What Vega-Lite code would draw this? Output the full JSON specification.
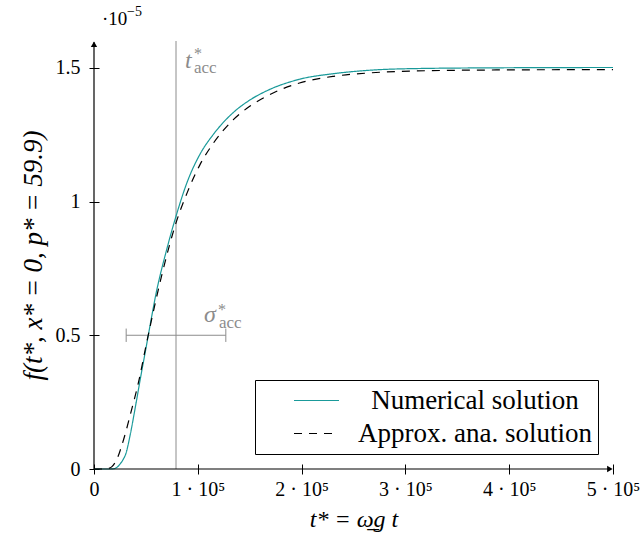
{
  "$schema": "https://vega.github.io/schema/vega-lite/v6.json",
  "width": 519,
  "height": 428,
  "autosize": {"type": "none"},
  "padding": {"left": 94, "top": 41, "right": 27, "bottom": 81},
  "background": "white",
  "config": {
    "view": {"stroke": null},
    "font": "Liberation Serif",
    "axis": {
      "domain": false,
      "grid": false,
      "tickColor": "black",
      "tickSize": 10,
      "offset": -5,
      "labelColor": "black",
      "labelFont": "Liberation Serif",
      "labelFontSize": 20,
      "titleFont": "Liberation Serif",
      "titleFontSize": 24,
      "titleFontWeight": "normal",
      "titleFontStyle": "italic",
      "titleColor": "black"
    },
    "legend": {
      "orient": "bottom-right",
      "offset": 15,
      "fillColor": "white",
      "strokeColor": "black",
      "cornerRadius": 0,
      "padding": 5.5,
      "rowPadding": 3,
      "clipHeight": 30,
      "symbolType": "stroke",
      "symbolSize": 2025,
      "symbolStrokeWidth": 1.2,
      "symbolOffset": 32.5,
      "labelFont": "Liberation Serif",
      "labelFontSize": 27,
      "labelColor": "black",
      "labelAlign": "center",
      "labelOffset": 135,
      "labelLimit": 400,
      "labelExpr": "datum.label + '\u00a0\u00a0'"
    }
  },
  "datasets": {
    "curves": [
      {"t": 0, "f": 0, "s": "Numerical solution"},
      {"t": 15000, "f": 0, "s": "Numerical solution"},
      {"t": 19000, "f": 0.001, "s": "Numerical solution"},
      {"t": 22000, "f": 0.006, "s": "Numerical solution"},
      {"t": 25000, "f": 0.018, "s": "Numerical solution"},
      {"t": 28000, "f": 0.035, "s": "Numerical solution"},
      {"t": 30500, "f": 0.055, "s": "Numerical solution"},
      {"t": 35000, "f": 0.13, "s": "Numerical solution"},
      {"t": 40000, "f": 0.235, "s": "Numerical solution"},
      {"t": 45000, "f": 0.345, "s": "Numerical solution"},
      {"t": 50000, "f": 0.45, "s": "Numerical solution"},
      {"t": 53000, "f": 0.515, "s": "Numerical solution"},
      {"t": 60000, "f": 0.66, "s": "Numerical solution"},
      {"t": 70000, "f": 0.82, "s": "Numerical solution"},
      {"t": 79000, "f": 0.945, "s": "Numerical solution"},
      {"t": 90000, "f": 1.075, "s": "Numerical solution"},
      {"t": 102000, "f": 1.176, "s": "Numerical solution"},
      {"t": 115000, "f": 1.251, "s": "Numerical solution"},
      {"t": 134000, "f": 1.332, "s": "Numerical solution"},
      {"t": 150000, "f": 1.379, "s": "Numerical solution"},
      {"t": 166000, "f": 1.413, "s": "Numerical solution"},
      {"t": 198000, "f": 1.457, "s": "Numerical solution"},
      {"t": 231000, "f": 1.478, "s": "Numerical solution"},
      {"t": 263000, "f": 1.49, "s": "Numerical solution"},
      {"t": 310000, "f": 1.497, "s": "Numerical solution"},
      {"t": 400000, "f": 1.5, "s": "Numerical solution"},
      {"t": 500000, "f": 1.501, "s": "Numerical solution"},
      {"t": 0, "f": 0, "s": "Approx. ana. solution"},
      {"t": 11000, "f": 0, "s": "Approx. ana. solution"},
      {"t": 14000, "f": 0.002, "s": "Approx. ana. solution"},
      {"t": 17000, "f": 0.008, "s": "Approx. ana. solution"},
      {"t": 20000, "f": 0.022, "s": "Approx. ana. solution"},
      {"t": 23000, "f": 0.045, "s": "Approx. ana. solution"},
      {"t": 25700, "f": 0.075, "s": "Approx. ana. solution"},
      {"t": 30000, "f": 0.13, "s": "Approx. ana. solution"},
      {"t": 35300, "f": 0.208, "s": "Approx. ana. solution"},
      {"t": 43400, "f": 0.333, "s": "Approx. ana. solution"},
      {"t": 49800, "f": 0.455, "s": "Approx. ana. solution"},
      {"t": 55000, "f": 0.55, "s": "Approx. ana. solution"},
      {"t": 65000, "f": 0.72, "s": "Approx. ana. solution"},
      {"t": 79000, "f": 0.92, "s": "Approx. ana. solution"},
      {"t": 90000, "f": 1.035, "s": "Approx. ana. solution"},
      {"t": 102000, "f": 1.137, "s": "Approx. ana. solution"},
      {"t": 115000, "f": 1.218, "s": "Approx. ana. solution"},
      {"t": 134000, "f": 1.305, "s": "Approx. ana. solution"},
      {"t": 150000, "f": 1.356, "s": "Approx. ana. solution"},
      {"t": 166000, "f": 1.393, "s": "Approx. ana. solution"},
      {"t": 198000, "f": 1.443, "s": "Approx. ana. solution"},
      {"t": 231000, "f": 1.468, "s": "Approx. ana. solution"},
      {"t": 263000, "f": 1.48, "s": "Approx. ana. solution"},
      {"t": 310000, "f": 1.488, "s": "Approx. ana. solution"},
      {"t": 400000, "f": 1.492, "s": "Approx. ana. solution"},
      {"t": 500000, "f": 1.493, "s": "Approx. ana. solution"}
    ],
    "caps": [
      {"t": 31000, "lo": 0.475, "hi": 0.525},
      {"t": 127000, "lo": 0.475, "hi": 0.525}
    ],
    "one": [{}]
  },
  "layer": [
    {
      "data": {"name": "one"},
      "mark": {"type": "rule", "color": "#8c8c8c", "strokeWidth": 1},
      "encoding": {
        "x": {"datum": 79000, "type": "quantitative"}
      }
    },
    {
      "data": {"name": "one"},
      "mark": {"type": "rule", "color": "#8c8c8c", "strokeWidth": 1},
      "encoding": {
        "x": {"datum": 31000, "type": "quantitative"},
        "x2": {"datum": 127000},
        "y": {"datum": 0.5, "type": "quantitative"}
      }
    },
    {
      "data": {"name": "caps"},
      "mark": {"type": "rule", "color": "#8c8c8c", "strokeWidth": 1},
      "encoding": {
        "x": {"field": "t", "type": "quantitative"},
        "y": {"field": "lo", "type": "quantitative"},
        "y2": {"field": "hi"}
      }
    },
    {
      "data": {"name": "curves"},
      "mark": {"type": "line", "interpolate": "monotone", "strokeWidth": 1.2},
      "encoding": {
        "x": {
          "field": "t",
          "type": "quantitative",
          "scale": {"domain": [0, 500000], "nice": false},
          "axis": {
            "values": [0, 100000, 200000, 300000, 400000, 500000],
            "labelExpr": "datum.value == 0 ? '0' : format(datum.value / 100000, 'd') + ' · 10⁵'",
            "labelPadding": 5,
            "labelFlush": false,
            "title": "t* = ω̲g t",
            "titlePadding": 8
          }
        },
        "y": {
          "field": "f",
          "type": "quantitative",
          "scale": {"domain": [0, 1.6], "nice": false},
          "axis": {
            "values": [0, 0.5, 1, 1.5],
            "format": "~g",
            "labelPadding": 9,
            "title": "f(t*, x* = 0, p* = 59.9)",
            "titleFontSize": 27,
            "titlePadding": 8
          }
        },
        "color": {
          "field": "s",
          "type": "nominal",
          "sort": ["Numerical solution", "Approx. ana. solution"],
          "scale": {"domain": ["Numerical solution", "Approx. ana. solution"], "range": ["#1a9a9a", "#000000"]},
          "legend": {"title": null}
        },
        "strokeDash": {
          "field": "s",
          "type": "nominal",
          "sort": ["Numerical solution", "Approx. ana. solution"],
          "scale": {"domain": ["Numerical solution", "Approx. ana. solution"], "range": [[1, 0], [8, 7]]},
          "legend": {"title": null}
        }
      }
    },
    {
      "data": {"name": "one"},
      "mark": {"type": "rule", "color": "black", "strokeWidth": 1.2},
      "encoding": {
        "x": {"datum": 0, "type": "quantitative"},
        "x2": {"datum": 498000},
        "y": {"datum": 0, "type": "quantitative"}
      }
    },
    {
      "data": {"name": "one"},
      "mark": {"type": "rule", "color": "black", "strokeWidth": 1.2},
      "encoding": {
        "x": {"datum": 0, "type": "quantitative"},
        "y": {"datum": 0, "type": "quantitative"},
        "y2": {"datum": 1.595}
      }
    },
    {
      "data": {"name": "one"},
      "mark": {"type": "point", "shape": "triangle-right", "filled": true, "color": "black", "size": 40, "opacity": 1},
      "encoding": {
        "x": {"datum": 497000, "type": "quantitative"},
        "y": {"datum": 0, "type": "quantitative"}
      }
    },
    {
      "data": {"name": "one"},
      "mark": {"type": "point", "shape": "triangle-up", "filled": true, "color": "black", "size": 40, "opacity": 1},
      "encoding": {
        "x": {"datum": 0, "type": "quantitative"},
        "y": {"datum": 1.588, "type": "quantitative"}
      }
    },
    {
      "data": {"name": "one"},
      "mark": {"type": "text", "text": "·10", "font": "Liberation Serif", "fontSize": 19, "color": "black", "align": "left", "baseline": "alphabetic", "dx": 8, "dy": -16},
      "encoding": {
        "x": {"datum": 0, "type": "quantitative"},
        "y": {"datum": 1.6, "type": "quantitative"}
      }
    },
    {
      "data": {"name": "one"},
      "mark": {"type": "text", "text": "−5", "font": "Liberation Serif", "fontSize": 14, "color": "black", "align": "left", "baseline": "alphabetic", "dx": 33, "dy": -25},
      "encoding": {
        "x": {"datum": 0, "type": "quantitative"},
        "y": {"datum": 1.6, "type": "quantitative"}
      }
    },
    {
      "data": {"name": "one"},
      "mark": {"type": "text", "text": "t", "font": "Liberation Serif", "fontStyle": "italic", "fontSize": 24, "color": "#8c8c8c", "align": "left", "baseline": "alphabetic", "dx": 9},
      "encoding": {
        "x": {"datum": 79000, "type": "quantitative"},
        "y": {"datum": 1.5, "type": "quantitative"}
      }
    },
    {
      "data": {"name": "one"},
      "mark": {"type": "text", "text": "*", "font": "Liberation Serif", "fontSize": 16, "color": "#8c8c8c", "align": "left", "baseline": "alphabetic", "dx": 18, "dy": -9},
      "encoding": {
        "x": {"datum": 79000, "type": "quantitative"},
        "y": {"datum": 1.5, "type": "quantitative"}
      }
    },
    {
      "data": {"name": "one"},
      "mark": {"type": "text", "text": "acc", "font": "Liberation Serif", "fontSize": 17, "color": "#8c8c8c", "align": "left", "baseline": "alphabetic", "dx": 18, "dy": 5},
      "encoding": {
        "x": {"datum": 79000, "type": "quantitative"},
        "y": {"datum": 1.5, "type": "quantitative"}
      }
    },
    {
      "data": {"name": "one"},
      "mark": {"type": "text", "text": "σ", "font": "Liberation Serif", "fontStyle": "italic", "fontSize": 24, "color": "#8c8c8c", "align": "left", "baseline": "alphabetic"},
      "encoding": {
        "x": {"datum": 106000, "type": "quantitative"},
        "y": {"datum": 0.55, "type": "quantitative"}
      }
    },
    {
      "data": {"name": "one"},
      "mark": {"type": "text", "text": "*", "font": "Liberation Serif", "fontSize": 16, "color": "#8c8c8c", "align": "left", "baseline": "alphabetic", "dx": 14, "dy": -7},
      "encoding": {
        "x": {"datum": 106000, "type": "quantitative"},
        "y": {"datum": 0.55, "type": "quantitative"}
      }
    },
    {
      "data": {"name": "one"},
      "mark": {"type": "text", "text": "acc", "font": "Liberation Serif", "fontSize": 17, "color": "#8c8c8c", "align": "left", "baseline": "alphabetic", "dx": 15, "dy": 6},
      "encoding": {
        "x": {"datum": 106000, "type": "quantitative"},
        "y": {"datum": 0.55, "type": "quantitative"}
      }
    }
  ]
}
